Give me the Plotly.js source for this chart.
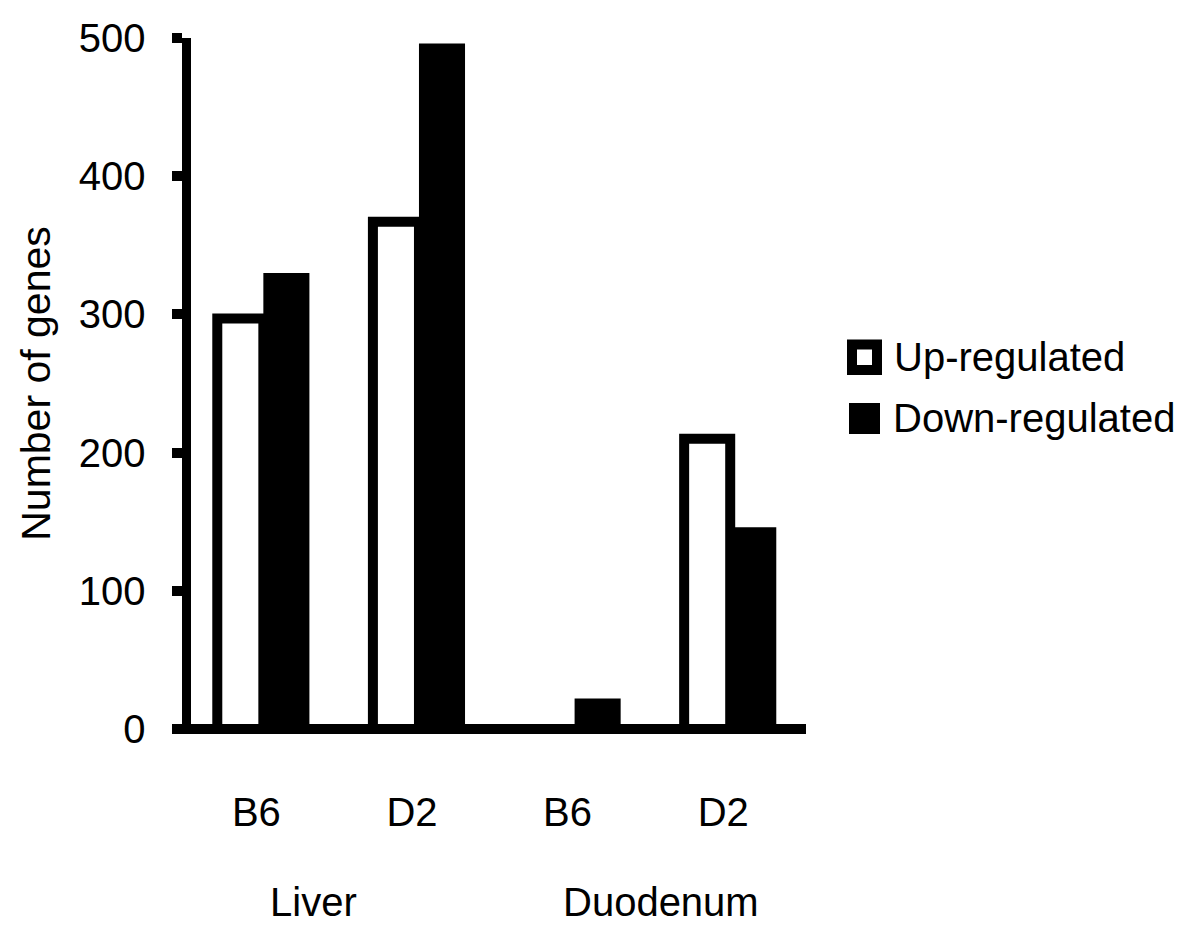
<!DOCTYPE html>
<html>
<head>
<meta charset="utf-8">
<script src="https://cdn.plot.ly/plotly-3.0.1.min.js"></script>
<style>
  html, body { margin: 0; padding: 0; background: #ffffff; }
  #chart { width: 1200px; height: 932px; }
</style>
</head>
<body>
<div id="chart"></div>
<script>
// ---- data ----
const categories = ['B6', 'D2', 'B6', 'D2'];
const groupNames = ['Liver', 'Duodenum'];
const seriesNames = ['Up-regulated', 'Down-regulated'];
const upValues = [297, 367, 0, 210];
const downValues = [330, 496, 22, 146];
const yTickValues = [0, 100, 200, 300, 400, 500];

// ---- layout helpers ----
const W = 1200, H = 932;
const M = { l: 172, r: 394, t: 38, b: 203 };
const PW = W - M.l - M.r, PH = H - M.t - M.b;
const px2x = p => (p - M.l) / PW;
const px2y = p => (H - M.b - p) / PH;
const FONT = 'Liberation Sans, Arial, Helvetica, sans-serif';
const FS = 40;
const xPos = categories.map((_, i) => i);

const traces = [
  {
    type: 'bar', name: seriesNames[0], x: xPos, y: upValues,
    marker: { color: '#ffffff', line: { color: '#000000', width: 10 } },
    showlegend: false, hoverinfo: 'y'
  },
  {
    type: 'bar', name: seriesNames[1], x: xPos, y: downValues,
    marker: { color: '#000000', line: { color: '#000000', width: 0 } },
    showlegend: false, hoverinfo: 'y'
  }
];

const groupCenters = [0.5, 2.5];
const groupShift = [-28, 9];

const annotations = groupNames.map((g, i) => ({
  text: g, x: groupCenters[i], xref: 'x', xshift: groupShift[i],
  y: px2y(902), yref: 'paper', xanchor: 'center', yanchor: 'middle',
  showarrow: false, font: { family: FONT, size: FS, color: '#000' }
}));
annotations.push(
  { text: seriesNames[0], x: px2x(892), xref: 'paper', y: px2y(357), yref: 'paper',
    xanchor: 'left', yanchor: 'middle', showarrow: false,
    font: { family: FONT, size: FS, color: '#000' } },
  { text: seriesNames[1], x: px2x(891), xref: 'paper', y: px2y(418), yref: 'paper',
    xanchor: 'left', yanchor: 'middle', showarrow: false,
    font: { family: FONT, size: FS, color: '#000' } }
);

const shapes = [
  { type: 'rect', xref: 'paper', yref: 'paper',
    x0: px2x(852), x1: px2x(877), y0: px2y(344.5), y1: px2y(370),
    fillcolor: '#ffffff', line: { color: '#000', width: 10 } },
  { type: 'rect', xref: 'paper', yref: 'paper',
    x0: px2x(849), x1: px2x(880), y0: px2y(403), y1: px2y(434),
    fillcolor: '#000000', line: { color: '#000', width: 0 } }
];

const layout = {
  width: W, height: H,
  margin: M,
  paper_bgcolor: '#ffffff', plot_bgcolor: '#ffffff',
  font: { family: FONT, color: '#000', size: FS },
  showlegend: false,
  barmode: 'group', bargap: 0.408, bargroupgap: 0,
  xaxis: {
    range: [-0.587, 3.487], anchor: 'free', position: 0,
    tickmode: 'array', tickvals: xPos, ticktext: categories,
    ticks: '', showgrid: false, zeroline: false,
    showline: true, linewidth: 10, linecolor: '#000',
    ticklabelshift: -7, ticklabelstandoff: 44,
    tickfont: { family: FONT, size: FS, color: '#000' }
  },
  yaxis: {
    range: [0, 500], anchor: 'free', position: px2x(185.5),
    tickmode: 'array', tickvals: yTickValues,
    ticks: 'outside', ticklen: 10, tickwidth: 10, tickcolor: '#000',
    showgrid: false, zeroline: false,
    showline: true, linewidth: 9, linecolor: '#000',
    ticklabelstandoff: 18,
    tickfont: { family: FONT, size: FS, color: '#000' },
    title: { text: 'Number of genes', standoff: 14, font: { family: FONT, size: 41, color: '#000' } }
  },
  annotations: annotations,
  shapes: shapes
};

Plotly.newPlot('chart', traces, layout, { displayModeBar: false, staticPlot: true });
</script>
</body>
</html>
